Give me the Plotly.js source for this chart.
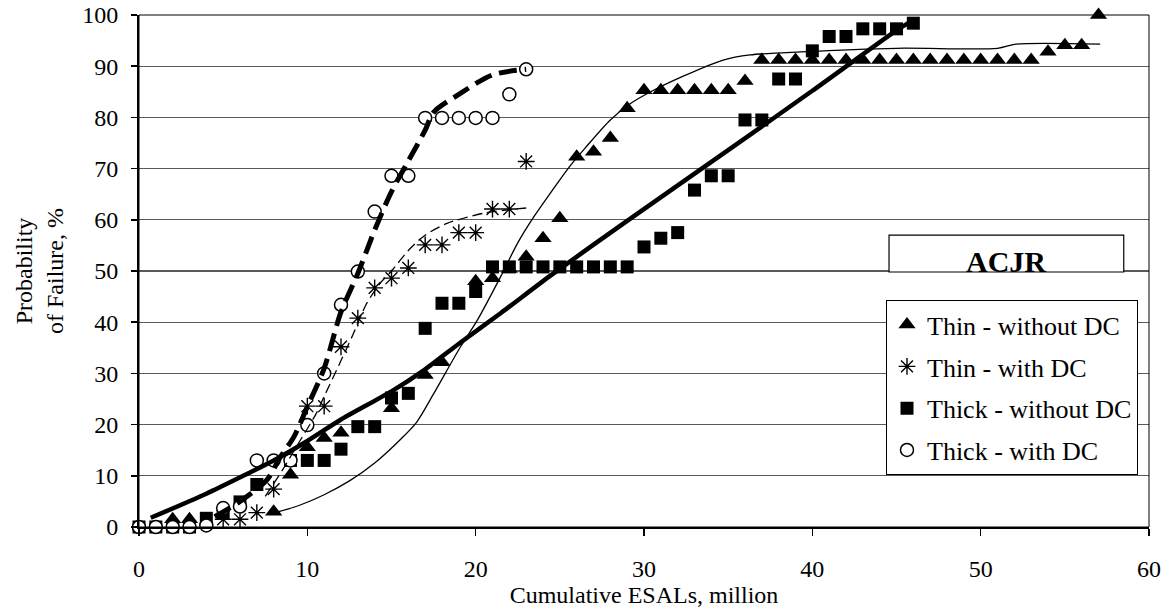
<!DOCTYPE html>
<html>
<head>
<meta charset="utf-8">
<script src="https://cdn.plot.ly/plotly-3.0.1.min.js"></script>
<style>html,body{margin:0;padding:0;background:#fff;}#chart{width:1175px;height:615px;}</style>
</head>
<body>
<div id="chart"></div>
<script>
// ---- data ----
const seriesNames = ["Thin - without DC", "Thin - with DC", "Thick - without DC", "Thick - with DC"];

const thinNoDcX = [2, 3, 8, 9, 10, 11, 12, 15, 17, 18, 20, 21, 22, 23, 24, 25, 26, 27, 28, 29, 30, 31, 32, 33, 34, 35, 36, 37, 38, 39, 40, 41, 42, 43, 44, 45, 46, 47, 48, 49, 50, 51, 52, 53, 54, 55, 56, 57];
const thinNoDcY = [1.5, 1.5, 3, 10.2, 15.6, 17.4, 18.4, 23.2, 29.7, 32.2, 48, 48.6, 50.4, 52.8, 56.4, 60.3, 72.3, 73.3, 76, 81.8, 85.3, 85.3, 85.3, 85.3, 85.3, 85.3, 87.1, 91.2, 91.2, 91.2, 91.2, 91.2, 91.2, 91.2, 91.2, 91.2, 91.2, 91.2, 91.2, 91.2, 91.2, 91.2, 91.2, 91.2, 92.8, 94.1, 94.1, 100];

const thinDcX = [5, 6, 7, 8, 10, 11, 12, 13, 14, 15, 16, 17, 18, 19, 20, 21, 22, 23];
const thinDcY = [1.5, 1.5, 2.8, 7.4, 23.6, 23.6, 35.2, 40.8, 46.7, 48.6, 50.6, 55.1, 55.1, 57.5, 57.5, 62.1, 62.1, 71.4];

const thickNoDcX = [0, 1, 2, 3, 4, 5, 6, 7, 9, 10, 11, 12, 13, 14, 15, 16, 17, 18, 19, 20, 21, 22, 23, 24, 25, 26, 27, 28, 29, 30, 31, 32, 33, 34, 35, 36, 37, 38, 39, 40, 41, 42, 43, 44, 45, 46];
const thickNoDcY = [0, 0, 0, 0, 1.7, 2.7, 4.9, 8.3, 13, 13, 13, 15.2, 19.6, 19.6, 25.2, 26.1, 38.8, 43.7, 43.7, 46, 50.8, 50.8, 50.8, 50.8, 50.8, 50.8, 50.8, 50.8, 50.8, 54.7, 56.4, 57.5, 65.8, 68.6, 68.6, 79.5, 79.5, 87.5, 87.5, 93, 95.8, 95.8, 97.3, 97.3, 97.3, 98.4];

const thickDcX = [0, 1, 2, 3, 4, 5, 6, 7, 8, 9, 10, 11, 12, 13, 14, 15, 16, 17, 18, 19, 20, 21, 22, 23];
const thickDcY = [0, 0, 0, 0, 0.3, 3.7, 4, 13, 13, 13, 19.9, 30, 43.4, 49.9, 61.6, 68.6, 68.6, 79.9, 79.9, 79.9, 79.9, 79.9, 84.5, 89.4];

// fitted curves
const fitThinNoDcX = [8.3, 9.5, 11, 12.5, 14, 15.5, 16.5, 17.5, 19.1, 20.1, 21.5, 22.5, 23.5, 24.5, 25.6, 26.5, 28, 29.2, 30.4, 32.3, 34.7, 36.3, 39.3, 45, 51, 52.1, 57.1];
const fitThinNoDcY = [3, 4.2, 6.3, 9, 12.5, 17, 20.5, 26, 35.2, 40.4, 49, 55.5, 60.8, 65.5, 70.5, 74, 79.5, 82.7, 85, 88, 91.2, 92.2, 92.8, 93.5, 93.5, 94.3, 94.3];

const fitThinDcX = [7.5, 8.5, 9.5, 10.5, 11, 12, 12.7, 13.5, 14.3, 15, 16, 17, 18.3, 20.5, 23];
const fitThinDcY = [6, 11, 16.5, 22, 25.5, 32.5, 37.5, 43.5, 47.5, 50, 54, 57, 59.3, 61.3, 62.3];

const fitThickNoDcX = [0.7, 4, 8, 10, 12, 15, 17, 19, 21.5, 24.4, 29, 35, 40, 45, 46];
const fitThickNoDcY = [1.8, 6.5, 13, 16.8, 21, 26.5, 30.8, 35.8, 41.8, 49, 59.8, 73.6, 85.2, 97, 99];

const fitThickDcX = [4.5, 6, 7.6, 8.4, 9.2, 10, 11, 12, 13, 14, 15, 16, 17, 17.5, 19, 21, 23];
const fitThickDcY = [2, 5, 9.2, 13.7, 17.6, 23.5, 31, 42, 49.5, 58, 65.5, 71.5, 77.5, 81, 84.5, 88.3, 89.4];

const yTicks = [0, 10, 20, 30, 40, 50, 60, 70, 80, 90, 100];
const xTicks = [0, 10, 20, 30, 40, 50, 60];
const boxLabel = "ACJR";
const xTitle = "Cumulative ESALs, million";
const yTitle = "Probability<br>of Failure, %";

// ---- traces ----
const FONT = "Liberation Serif, Times New Roman, serif";
const traces = [
  {x: thickNoDcX, y: thickNoDcY, name: seriesNames[2], mode: "markers", type: "scatter", cliponaxis: false,
   legendgroup: "c", legendrank: 3,
   marker: {symbol: "square", size: 13, color: "#000"}},
  {x: thinNoDcX, y: thinNoDcY, name: seriesNames[0], mode: "markers", type: "scatter", cliponaxis: false,
   legendgroup: "a", legendrank: 1,
   marker: {symbol: "triangle-up", size: 15, color: "#000"}},
  {x: thinDcX, y: thinDcY, name: seriesNames[1], mode: "markers", type: "scatter", cliponaxis: false,
   legendgroup: "b", legendrank: 2,
   marker: {symbol: "asterisk-open", size: 14, color: "#000", line: {color: "#000", width: 1.4}}},
  {x: thickDcX, y: thickDcY, name: seriesNames[3], mode: "markers", type: "scatter", cliponaxis: false,
   legendgroup: "d", legendrank: 4,
   marker: {symbol: "circle", size: 13, color: "#fff", line: {color: "#000", width: 1.5}}},
  {x: fitThinNoDcX, y: fitThinNoDcY, mode: "lines", type: "scatter", showlegend: false, hoverinfo: "skip",
   line: {color: "#000", width: 1.3, shape: "spline", smoothing: 0.8}},
  {x: fitThinDcX, y: fitThinDcY, mode: "lines", type: "scatter", showlegend: false, hoverinfo: "skip",
   line: {color: "#000", width: 1.3, dash: "10px,5px", shape: "spline", smoothing: 0.8}},
  {x: fitThickNoDcX, y: fitThickNoDcY, mode: "lines", type: "scatter", showlegend: false, hoverinfo: "skip",
   line: {color: "#000", width: 4.5, shape: "spline", smoothing: 0.6}},
  {x: fitThickDcX, y: fitThickDcY, mode: "lines", type: "scatter", showlegend: false, hoverinfo: "skip",
   line: {color: "#000", width: 5, dash: "18px,8px", shape: "spline", smoothing: 0.8}}
];

const layout = {
  width: 1175, height: 615,
  margin: {l: 139, r: 26, t: 15, b: 88},
  paper_bgcolor: "#fff", plot_bgcolor: "#fff",
  font: {family: FONT, size: 24, color: "#000"},
  showlegend: true,
  legend: {
    x: 0.7396, y: 0.443, xanchor: "left", yanchor: "top",
    bgcolor: "#fff", bordercolor: "#000", borderwidth: 1,
    font: {family: FONT, size: 26, color: "#000"},
    tracegroupgap: 5, itemwidth: 30, traceorder: "grouped"
  },
  xaxis: {
    range: [0, 60], tickvals: xTicks, ticktext: xTicks.map(String),
    showgrid: false, zeroline: false,
    showline: true, linecolor: "#000", linewidth: 1.5,
    ticks: "outside", ticklen: 7, tickwidth: 1.5, tickcolor: "#000",
    ticklabelstandoff: 13,
    tickfont: {family: FONT, size: 24, color: "#000"},
    title: {text: xTitle, font: {family: FONT, size: 24, color: "#000"}, standoff: 4},
    fixedrange: true
  },
  yaxis: {
    range: [0, 100], tickvals: yTicks, ticktext: yTicks.map(String),
    showgrid: true, gridcolor: "#5a5a5a", gridwidth: 1.3, zeroline: false,
    showline: true, linecolor: "#000", linewidth: 2,
    ticks: "outside", ticklen: 6, tickwidth: 1.5, tickcolor: "#000",
    ticklabelstandoff: 8,
    tickfont: {family: FONT, size: 24, color: "#000"},
    title: {text: yTitle, font: {family: FONT, size: 24, color: "#000"}, standoff: 12},
    fixedrange: true
  },
  shapes: [
    {type: "rect", xref: "paper", yref: "paper", x0: 0, x1: 1, y0: 0, y1: 1,
     line: {color: "#000", width: 1}, fillcolor: "rgba(0,0,0,0)", layer: "above"},
    {type: "rect", xref: "paper", yref: "paper", x0: 0.7426, x1: 0.975, y0: 0.498, y1: 0.570,
     line: {color: "#000", width: 1.2}, fillcolor: "#fff", layer: "above"}
  ],
  annotations: [
    {text: "<b>" + boxLabel + "</b>", xref: "paper", yref: "paper", x: 0.8588, y: 0.518,
     xanchor: "center", yanchor: "middle", showarrow: false,
     font: {family: FONT, size: 30, color: "#000"}}
  ]
};

Plotly.newPlot("chart", traces, layout, {displayModeBar: false, staticPlot: true});
</script>
</body>
</html>
